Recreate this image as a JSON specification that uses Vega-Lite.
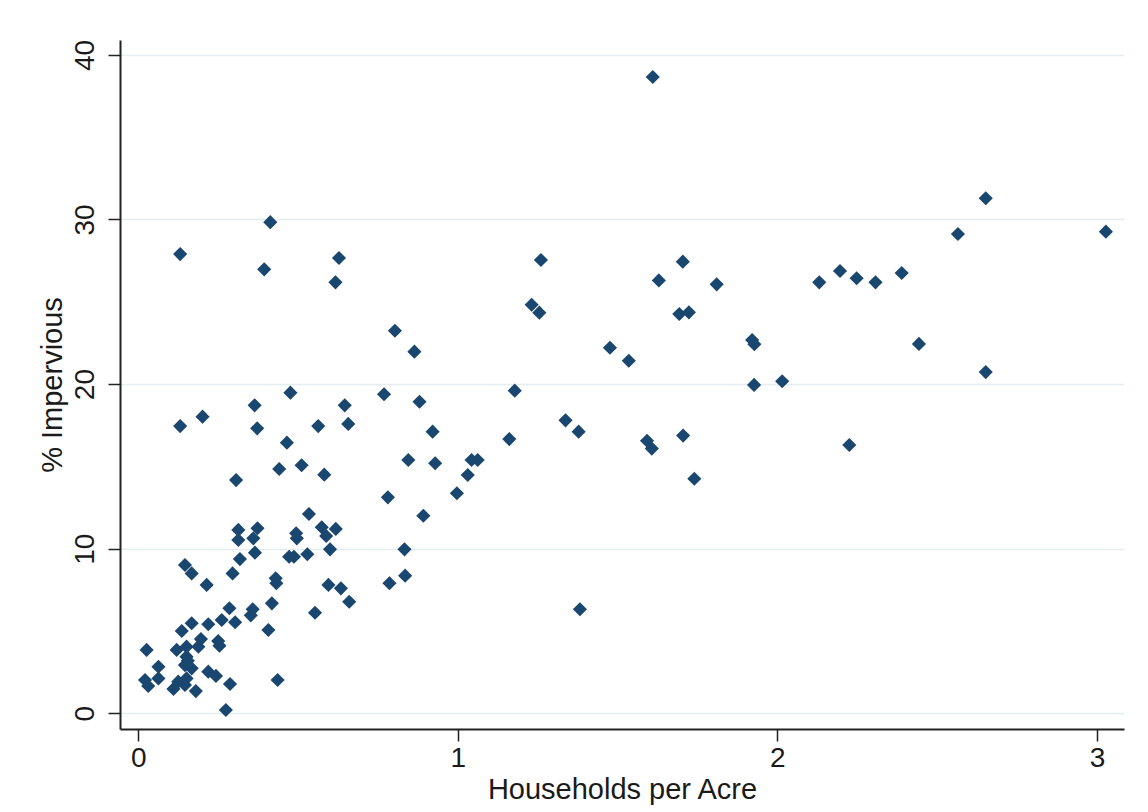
{
  "$schema": "https://vega.github.io/schema/vega-lite/v6.json",
  "width": 1004,
  "height": 689,
  "autosize": {"type": "none"},
  "padding": {"left": 120, "top": 40, "right": 24, "bottom": 83},
  "background": "white",
  "config": {
    "view": {"stroke": null},
    "font": "Liberation Sans",
    "axis": {
      "labelFont": "Liberation Sans",
      "titleFont": "Liberation Sans",
      "labelColor": "#1a1a1a",
      "titleColor": "#1a1a1a",
      "labelFontSize": 28,
      "titleFontSize": 29,
      "titleFontWeight": "normal",
      "domainColor": "#222222",
      "domainWidth": 2,
      "tickColor": "#222222",
      "tickWidth": 1.5,
      "tickSize": 12
    }
  },
  "data": {
    "values": [
      {"hh": 1.610, "imp": 38.66},
      {"hh": 2.652, "imp": 31.29},
      {"hh": 3.028, "imp": 29.26},
      {"hh": 2.565, "imp": 29.12},
      {"hh": 0.413, "imp": 29.84},
      {"hh": 0.131, "imp": 27.90},
      {"hh": 0.394, "imp": 26.97},
      {"hh": 0.628, "imp": 27.66},
      {"hh": 0.617, "imp": 26.18},
      {"hh": 1.260, "imp": 27.54},
      {"hh": 1.704, "imp": 27.44},
      {"hh": 1.629, "imp": 26.30},
      {"hh": 1.810, "imp": 26.06},
      {"hh": 2.131, "imp": 26.18},
      {"hh": 2.196, "imp": 26.87},
      {"hh": 2.248, "imp": 26.43},
      {"hh": 2.307, "imp": 26.18},
      {"hh": 2.389, "imp": 26.75},
      {"hh": 1.231, "imp": 24.82},
      {"hh": 1.255, "imp": 24.34},
      {"hh": 1.693, "imp": 24.26},
      {"hh": 1.723, "imp": 24.36},
      {"hh": 0.803, "imp": 23.24},
      {"hh": 0.864, "imp": 21.97},
      {"hh": 1.476, "imp": 22.21},
      {"hh": 1.535, "imp": 21.42},
      {"hh": 1.921, "imp": 22.68},
      {"hh": 1.928, "imp": 22.42},
      {"hh": 2.443, "imp": 22.44},
      {"hh": 2.652, "imp": 20.73},
      {"hh": 1.927, "imp": 19.95},
      {"hh": 2.015, "imp": 20.17},
      {"hh": 1.178, "imp": 19.60},
      {"hh": 0.769, "imp": 19.38},
      {"hh": 0.476, "imp": 19.48},
      {"hh": 0.880, "imp": 18.93},
      {"hh": 0.364, "imp": 18.71},
      {"hh": 0.646, "imp": 18.71},
      {"hh": 0.201, "imp": 18.02},
      {"hh": 0.131, "imp": 17.45},
      {"hh": 0.372, "imp": 17.31},
      {"hh": 0.563, "imp": 17.45},
      {"hh": 0.657, "imp": 17.58},
      {"hh": 0.921, "imp": 17.11},
      {"hh": 1.337, "imp": 17.80},
      {"hh": 1.378, "imp": 17.11},
      {"hh": 1.705, "imp": 16.87},
      {"hh": 1.161, "imp": 16.66},
      {"hh": 1.592, "imp": 16.56},
      {"hh": 1.607, "imp": 16.08},
      {"hh": 2.225, "imp": 16.30},
      {"hh": 0.465, "imp": 16.44},
      {"hh": 0.441, "imp": 14.84},
      {"hh": 0.511, "imp": 15.07},
      {"hh": 0.582, "imp": 14.50},
      {"hh": 0.845, "imp": 15.39},
      {"hh": 0.929, "imp": 15.19},
      {"hh": 1.043, "imp": 15.39},
      {"hh": 1.062, "imp": 15.39},
      {"hh": 1.031, "imp": 14.48},
      {"hh": 1.740, "imp": 14.25},
      {"hh": 0.306, "imp": 14.17},
      {"hh": 0.997, "imp": 13.37},
      {"hh": 0.781, "imp": 13.12},
      {"hh": 0.534, "imp": 12.11},
      {"hh": 0.892, "imp": 12.00},
      {"hh": 0.313, "imp": 11.14},
      {"hh": 0.313, "imp": 10.53},
      {"hh": 0.373, "imp": 11.24},
      {"hh": 0.360, "imp": 10.63},
      {"hh": 0.494, "imp": 10.94},
      {"hh": 0.496, "imp": 10.63},
      {"hh": 0.574, "imp": 11.30},
      {"hh": 0.588, "imp": 10.77},
      {"hh": 0.618, "imp": 11.20},
      {"hh": 0.600, "imp": 9.96},
      {"hh": 0.833, "imp": 9.96},
      {"hh": 0.318, "imp": 9.37},
      {"hh": 0.365, "imp": 9.76},
      {"hh": 0.472, "imp": 9.51},
      {"hh": 0.487, "imp": 9.51},
      {"hh": 0.529, "imp": 9.66},
      {"hh": 0.146, "imp": 9.01},
      {"hh": 0.167, "imp": 8.50},
      {"hh": 0.295, "imp": 8.50},
      {"hh": 0.214, "imp": 7.80},
      {"hh": 0.430, "imp": 8.20},
      {"hh": 0.432, "imp": 7.90},
      {"hh": 0.595, "imp": 7.80},
      {"hh": 0.634, "imp": 7.59},
      {"hh": 0.835, "imp": 8.36},
      {"hh": 0.786, "imp": 7.90},
      {"hh": 0.660, "imp": 6.78},
      {"hh": 0.418, "imp": 6.68},
      {"hh": 0.553, "imp": 6.11},
      {"hh": 0.285, "imp": 6.38},
      {"hh": 0.358, "imp": 6.32},
      {"hh": 0.352, "imp": 5.95},
      {"hh": 1.382, "imp": 6.32},
      {"hh": 0.407, "imp": 5.06},
      {"hh": 0.167, "imp": 5.47},
      {"hh": 0.136, "imp": 5.00},
      {"hh": 0.219, "imp": 5.41},
      {"hh": 0.261, "imp": 5.67},
      {"hh": 0.303, "imp": 5.53},
      {"hh": 0.026, "imp": 3.85},
      {"hh": 0.120, "imp": 3.85},
      {"hh": 0.151, "imp": 4.05},
      {"hh": 0.151, "imp": 3.44},
      {"hh": 0.155, "imp": 3.20},
      {"hh": 0.188, "imp": 4.05},
      {"hh": 0.196, "imp": 4.51},
      {"hh": 0.250, "imp": 4.39},
      {"hh": 0.254, "imp": 4.11},
      {"hh": 0.146, "imp": 2.93},
      {"hh": 0.167, "imp": 2.73},
      {"hh": 0.063, "imp": 2.83},
      {"hh": 0.063, "imp": 2.12},
      {"hh": 0.021, "imp": 2.02},
      {"hh": 0.031, "imp": 1.66},
      {"hh": 0.110, "imp": 1.48},
      {"hh": 0.125, "imp": 1.92},
      {"hh": 0.146, "imp": 1.72},
      {"hh": 0.151, "imp": 2.12},
      {"hh": 0.180, "imp": 1.35},
      {"hh": 0.219, "imp": 2.53},
      {"hh": 0.243, "imp": 2.27},
      {"hh": 0.287, "imp": 1.78},
      {"hh": 0.436, "imp": 2.02},
      {"hh": 0.274, "imp": 0.20}
    ]
  },
  "mark": {"type": "point", "shape": "diamond", "filled": true, "size": 200, "color": "#1a476f", "opacity": 1},
  "encoding": {
    "x": {
      "field": "hh",
      "type": "quantitative",
      "scale": {"domain": [-0.0573, 3.0847], "nice": false, "zero": false},
      "axis": {
        "title": "Households per Acre",
        "values": [0, 1, 2, 3],
        "grid": false,
        "labelPadding": 3,
        "titlePadding": 3
      }
    },
    "y": {
      "field": "imp",
      "type": "quantitative",
      "scale": {"domain": [-0.954, 40.905], "nice": false, "zero": false},
      "axis": {
        "title": "% Impervious",
        "values": [0, 10, 20, 30, 40],
        "grid": true,
        "gridColor": "#e4edf0",
        "gridWidth": 1.5,
        "labelAngle": -90,
        "labelAlign": "center",
        "labelBaseline": "alphabetic",
        "labelPadding": 15,
        "titlePadding": 4
      }
    }
  }
}
